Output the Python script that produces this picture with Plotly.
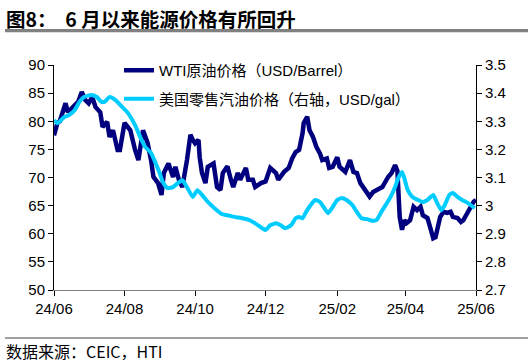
import plotly.graph_objects as go

# WTI crude oil price (USD/Barrel), left axis
wti_dates = [
    "2024-06-01", "2024-06-04", "2024-06-06", "2024-06-11", "2024-06-13", "2024-06-17",
    "2024-06-22", "2024-06-25", "2024-06-28", "2024-07-01", "2024-07-04", "2024-07-07",
    "2024-07-11", "2024-07-13", "2024-07-17", "2024-07-19", "2024-07-22", "2024-07-26",
    "2024-07-28", "2024-08-01", "2024-08-06", "2024-08-10", "2024-08-13", "2024-08-17",
    "2024-08-21", "2024-08-24", "2024-08-26", "2024-08-30", "2024-08-31", "2024-09-02",
    "2024-09-04", "2024-09-08", "2024-09-12", "2024-09-14", "2024-09-17", "2024-09-20",
    "2024-09-24", "2024-09-27", "2024-09-29", "2024-10-01", "2024-10-04", "2024-10-05",
    "2024-10-07", "2024-10-10", "2024-10-12", "2024-10-17", "2024-10-20", "2024-10-23",
    "2024-10-25", "2024-10-29", "2024-11-01", "2024-11-03", "2024-11-07", "2024-11-09",
    "2024-11-14", "2024-11-16", "2024-11-20", "2024-11-22", "2024-11-27", "2024-12-01",
    "2024-12-05", "2024-12-10", "2024-12-12", "2024-12-17", "2024-12-21", "2024-12-24",
    "2024-12-27", "2024-12-30", "2025-01-02", "2025-01-03", "2025-01-06", "2025-01-08",
    "2025-01-11", "2025-01-14", "2025-01-17", "2025-01-19", "2025-01-23", "2025-01-25",
    "2025-01-28", "2025-02-01", "2025-02-03", "2025-02-08", "2025-02-12", "2025-02-15",
    "2025-02-18", "2025-02-21", "2025-02-25", "2025-02-28", "2025-03-01", "2025-03-04",
    "2025-03-08", "2025-03-12", "2025-03-17", "2025-03-20", "2025-03-23", "2025-03-25",
    "2025-03-27", "2025-03-29", "2025-03-31", "2025-04-02", "2025-04-05", "2025-04-08",
    "2025-04-11", "2025-04-14", "2025-04-16", "2025-04-20", "2025-04-23", "2025-04-25",
    "2025-04-27", "2025-04-29", "2025-05-01", "2025-05-04", "2025-05-07", "2025-05-10",
    "2025-05-12", "2025-05-16", "2025-05-19", "2025-05-21", "2025-05-25", "2025-05-27",
    "2025-05-30", "2025-06-01",
]
wti_values = [
    77.5, 79.7, 80.0, 83.2, 81.6, 82.5,
    83.5, 85.2, 83.8, 83.2, 84.3, 82.5,
    81.6, 79.0, 79.9, 77.2, 78.4, 74.9,
    74.9, 79.7, 78.4, 75.0, 73.1, 78.4,
    76.1, 73.0, 70.1, 69.0, 68.3, 66.9,
    70.8, 72.5, 70.1, 71.9, 69.6, 68.3,
    73.1, 77.6, 76.7, 76.1, 76.7, 73.6,
    70.8, 69.0, 71.9, 72.5, 68.3, 67.8,
    70.8, 72.0, 69.6, 68.3, 70.8, 69.6,
    71.7, 69.6, 69.6, 68.3, 69.0, 69.3,
    71.7, 70.8, 69.6, 71.0, 71.7, 73.4,
    74.5, 74.9, 77.9, 79.7, 80.8, 78.4,
    77.2, 75.4, 74.3, 73.1, 73.4, 71.7,
    71.9, 73.6, 71.9, 71.0, 73.1, 71.0,
    70.8, 69.0, 67.8, 66.6, 66.6, 67.4,
    67.8, 68.3, 70.1, 70.8, 72.2, 71.2,
    63.0, 60.7, 62.4, 61.9, 62.4, 64.8,
    64.2, 64.8, 63.3, 62.8, 60.7, 59.2,
    59.4, 61.2, 63.0, 63.9, 63.7, 63.9,
    63.0, 62.8, 62.1, 62.4, 63.9, 64.8,
    65.7, 66.0,
]

# US retail gasoline price (USD/gal), right axis
gas_dates = [
    "2024-06-01", "2024-06-04", "2024-06-10", "2024-06-14", "2024-06-19", "2024-06-23",
    "2024-06-27", "2024-07-03", "2024-07-08", "2024-07-12", "2024-07-15", "2024-07-19",
    "2024-07-24", "2024-07-30", "2024-08-04", "2024-08-10", "2024-08-15", "2024-08-19",
    "2024-08-24", "2024-08-28", "2024-08-31", "2024-09-03", "2024-09-07", "2024-09-12",
    "2024-09-16", "2024-09-20", "2024-09-24", "2024-09-29", "2024-10-03", "2024-10-07",
    "2024-10-12", "2024-10-18", "2024-10-24", "2024-10-29", "2024-11-04", "2024-11-10",
    "2024-11-16", "2024-11-22", "2024-11-28", "2024-12-01", "2024-12-05", "2024-12-10",
    "2024-12-14", "2024-12-18", "2024-12-23", "2024-12-27", "2024-12-30", "2025-01-02",
    "2025-01-05", "2025-01-09", "2025-01-13", "2025-01-17", "2025-01-22", "2025-01-24",
    "2025-01-28", "2025-02-01", "2025-02-05", "2025-02-09", "2025-02-14", "2025-02-18",
    "2025-02-22", "2025-02-27", "2025-03-03", "2025-03-07", "2025-03-11", "2025-03-16",
    "2025-03-20", "2025-03-23", "2025-03-26", "2025-03-29", "2025-03-31", "2025-04-03",
    "2025-04-07", "2025-04-12", "2025-04-16", "2025-04-20", "2025-04-25", "2025-04-28",
    "2025-05-02", "2025-05-05", "2025-05-09", "2025-05-12", "2025-05-16", "2025-05-20",
    "2025-05-25", "2025-05-31",
]
gas_values = [
    3.304, 3.293, 3.315, 3.322, 3.340, 3.369,
    3.386, 3.393, 3.386, 3.369, 3.370, 3.386,
    3.376, 3.351, 3.329, 3.287, 3.240, 3.208,
    3.187, 3.150, 3.120, 3.085, 3.063, 3.066,
    3.080, 3.090, 3.066, 3.031, 3.055, 3.038,
    3.013, 2.990, 2.970, 2.966, 2.960, 2.956,
    2.950, 2.937, 2.920, 2.913, 2.930, 2.937,
    2.930, 2.920, 2.930, 2.955, 2.960, 2.955,
    2.977, 3.002, 3.020, 3.013, 2.984, 2.973,
    2.995, 3.020, 3.027, 3.020, 3.002, 2.977,
    2.955, 2.952, 2.946, 2.949, 2.977, 3.009,
    3.038, 3.066, 3.100, 3.120, 3.098, 3.055,
    3.031, 3.020, 3.013, 3.020, 3.038, 3.013,
    2.984, 3.002, 3.038, 3.045, 3.031, 3.020,
    3.009, 2.991,
]

left_ticks = [50, 55, 60, 65, 70, 75, 80, 85, 90]
right_ticks = [2.7, 2.8, 2.9, 3.0, 3.1, 3.2, 3.3, 3.4, 3.5]
right_labels = ["2.7", "2.8", "2.9", "3", "3.1", "3.2", "3.3", "3.4", "3.5"]

title_text = "图8：  6 月以来能源价格有所回升"
source_text = "数据来源：CEIC，HTI"
name_wti = "WTI原油价格（USD/Barrel）"
name_gas = "美国零售汽油价格（右轴，USD/gal）"

FONT = "Liberation Sans, Arial, Noto Sans CJK SC, sans-serif"
CJK = "Noto Sans CJK SC, sans-serif"

fig = go.Figure()
fig.add_trace(go.Scatter(
    x=wti_dates, y=wti_values, name=name_wti, mode="lines",
    line=dict(color="#00007F", width=4.5), legendgroup="a",
))
fig.add_trace(go.Scatter(
    x=gas_dates, y=gas_values, name=name_gas, mode="lines", yaxis="y2",
    line=dict(color="#00CCFF", width=4, shape="spline", smoothing=0.5), legendgroup="b",
))

L, R, T, B = 54, 56, 65, 74
W, H = 532, 364
ph = H - T - B
pw = W - L - R

def py(y):
    return (H - B - y) / ph

def px(x):
    return (x - L) / pw

fig.update_layout(
    width=W, height=H,
    margin=dict(l=L, r=R, t=T, b=B),
    paper_bgcolor="white", plot_bgcolor="white",
    font=dict(family=FONT, size=15, color="black"),
    showlegend=True,
    legend=dict(
        x=px(119), y=py(54), xanchor="left", yanchor="top",
        bgcolor="rgba(0,0,0,0)", font=dict(family=FONT, size=15),
        traceorder="grouped", tracegroupgap=6,
    ),
    xaxis=dict(
        type="date", range=["2024-06-01", "2025-06-01"],
        tick0="2024-06-01", dtick="M2", tickformat="%y/%m",
        showgrid=False, zeroline=False,
        showline=True, linecolor="#808080", linewidth=1,
        ticks="outside", ticklen=5, tickcolor="black",
        tickfont=dict(size=15),
    ),
    yaxis=dict(
        range=[50, 90], tickvals=left_ticks, showgrid=False, zeroline=False,
        showline=True, linecolor="black", linewidth=1,
        ticks="outside", ticklen=5, tickcolor="black",
        tickfont=dict(size=15),
    ),
    yaxis2=dict(
        range=[2.7, 3.5], tickvals=right_ticks, ticktext=right_labels,
        overlaying="y", side="right", showgrid=False, zeroline=False,
        showline=True, linecolor="black", linewidth=1,
        ticks="outside", ticklen=5, tickcolor="black",
        tickfont=dict(size=15),
    ),
)

fig.add_annotation(
    text="<b>" + title_text + "</b>", xref="paper", yref="paper",
    x=px(4), y=py(18), xanchor="left", yanchor="middle", showarrow=False,
    font=dict(family=CJK, size=19.5, color="black"),
)
fig.add_annotation(
    text=source_text, xref="paper", yref="paper",
    x=px(4), y=py(351), xanchor="left", yanchor="middle", showarrow=False,
    font=dict(family=CJK, size=16, color="black"),
)
# title underline: a shape plus a thin filled annotation box as a fallback
fig.add_shape(type="line", xref="paper", yref="paper", layer="above",
              x0=px(5), x1=px(528), y0=py(31), y1=py(31),
              line=dict(color="#808080", width=2.5))
fig.add_annotation(
    text="&nbsp;", xref="paper", yref="paper",
    x=px(5), y=py(31), xanchor="left", yanchor="middle", showarrow=False,
    width=523, height=2.5, bgcolor="#808080", borderpad=0, borderwidth=0,
    font=dict(size=1, color="#808080"),
)
fig.add_shape(type="line", xref="paper", yref="paper", layer="above",
              x0=px(5), x1=px(528), y0=py(338), y1=py(338),
              line=dict(color="#404040", width=1))

fig.write_html(
    "out.html",
    config={"displayModeBar": False},
    post_script="document.body.style.margin='0';document.body.style.overflow='hidden';",
)
